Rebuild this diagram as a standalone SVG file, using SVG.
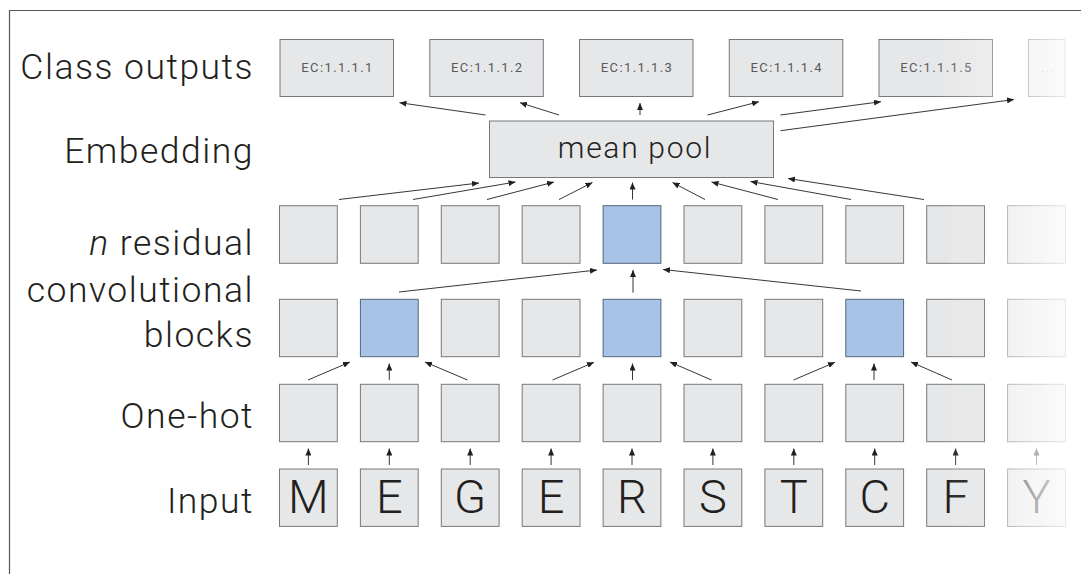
<svg xmlns="http://www.w3.org/2000/svg" width="1081" height="574" viewBox="0 0 1081 574">
<style>
.lbl{font-family:Roboto,"Liberation Sans",sans-serif;font-weight:300;font-size:35.5px;fill:#231f20;text-anchor:end;letter-spacing:1.5px}
.box{fill:#e6e7e8;stroke:#77787b;stroke-width:1}
.blue{fill:#a7c4e6;stroke:#56657a;stroke-width:1}
.ec{font-family:Roboto,"Liberation Sans",sans-serif;font-weight:400;font-size:13px;fill:#58595b;text-anchor:middle;letter-spacing:1.4px}
.let{font-family:Roboto,"Liberation Sans",sans-serif;font-weight:300;font-size:47px;fill:#231f20;text-anchor:middle}
.pool{font-family:Roboto,"Liberation Sans",sans-serif;font-weight:300;font-size:30px;fill:#231f20;text-anchor:middle;letter-spacing:1.7px}
.conn line{stroke:#231f20;stroke-width:0.9;fill:none;marker-end:url(#ah)}
</style>
<defs>
<marker id="ah" markerWidth="8" markerHeight="6" refX="7" refY="3" orient="auto" markerUnits="userSpaceOnUse"><path d="M0,0 L7,3 L0,6 z" fill="#231f20"/></marker>
<linearGradient id="fadeB" gradientUnits="userSpaceOnUse" x1="940" y1="0" x2="1070" y2="0">
<stop offset="0" stop-color="#fff" stop-opacity="0"/>
<stop offset="0.08" stop-color="#fff" stop-opacity="0"/>
<stop offset="0.081" stop-color="#fff" stop-opacity="0.06"/>
<stop offset="0.34" stop-color="#fff" stop-opacity="0.09"/>
<stop offset="0.5" stop-color="#fff" stop-opacity="0.45"/>
<stop offset="0.96" stop-color="#fff" stop-opacity="0.82"/>
<stop offset="1" stop-color="#fff" stop-opacity="0.82"/>
</linearGradient>
<linearGradient id="fadeT" gradientUnits="userSpaceOnUse" x1="930" y1="0" x2="1070" y2="0">
<stop offset="0" stop-color="#fff" stop-opacity="0"/>
<stop offset="0.44" stop-color="#fff" stop-opacity="0.25"/>
<stop offset="0.7" stop-color="#fff" stop-opacity="0.6"/>
<stop offset="0.96" stop-color="#fff" stop-opacity="0.82"/>
<stop offset="1" stop-color="#fff" stop-opacity="0.82"/>
</linearGradient>
</defs>
<rect width="1081" height="574" fill="#fff"/>
<path d="M9.5,574 V10.5 H1081" fill="none" stroke="#555" stroke-width="1.2"/>

<g id="labels">
<text class="lbl" x="254" y="78.5">Class outputs</text>
<text class="lbl" x="254" y="163">Embedding</text>
<text class="lbl" x="254" y="255"><tspan font-style="italic">n</tspan> residual</text>
<text class="lbl" x="254" y="301.5">convolutional</text>
<text class="lbl" x="254" y="347">blocks</text>
<text class="lbl" x="254" y="428">One-hot</text>
<text class="lbl" x="254" y="513">Input</text>
</g>

<g id="class-outputs">
<g id="ec1"><rect class="box" x="280" y="39.5" width="113.5" height="57"/><text class="ec" x="337.5" y="71.7">EC:1.1.1.1</text></g>
<g id="ec2"><rect class="box" x="429.8" y="39.5" width="113.5" height="57"/><text class="ec" x="487.3" y="71.7">EC:1.1.1.2</text></g>
<g id="ec3"><rect class="box" x="579.5" y="39.5" width="113.5" height="57"/><text class="ec" x="637" y="71.7">EC:1.1.1.3</text></g>
<g id="ec4"><rect class="box" x="729.3" y="39.5" width="113.5" height="57"/><text class="ec" x="786.8" y="71.7">EC:1.1.1.4</text></g>
<g id="ec5"><rect class="box" x="879" y="39.5" width="113.5" height="57"/><text class="ec" x="936.5" y="71.7">EC:1.1.1.5</text></g>
<g id="ec-more"><rect class="box" x="1028.5" y="39.5" width="36.5" height="57"/><text class="ec" x="1047.5" y="71.7" style="fill:#9a9a9a;letter-spacing:1px">...</text></g>
<rect x="930" y="38" width="140" height="59.5" fill="url(#fadeT)"/>
</g>

<g id="mean-pool">
<rect class="box" x="489.5" y="121" width="284" height="56.5"/>
<text class="pool" x="635" y="158.3">mean pool</text>
</g>

<g id="residual-top">
<rect class="box" x="279.5" y="205.7" width="57.8" height="57.6"/>
<rect class="box" x="360.4" y="205.7" width="57.8" height="57.6"/>
<rect class="box" x="441.3" y="205.7" width="57.8" height="57.6"/>
<rect class="box" x="522.2" y="205.7" width="57.8" height="57.6"/>
<rect class="blue" x="603.1" y="205.7" width="57.8" height="57.6"/>
<rect class="box" x="684" y="205.7" width="57.8" height="57.6"/>
<rect class="box" x="764.9" y="205.7" width="57.8" height="57.6"/>
<rect class="box" x="845.8" y="205.7" width="57.8" height="57.6"/>
<rect class="box" x="926.7" y="205.7" width="57.8" height="57.6"/>
<rect class="box" x="1007.6" y="205.7" width="57.8" height="57.6"/>
</g>

<g id="residual-bottom">
<rect class="box" x="279.5" y="299.3" width="57.8" height="57.4"/>
<rect class="blue" x="360.4" y="299.3" width="57.8" height="57.4"/>
<rect class="box" x="441.3" y="299.3" width="57.8" height="57.4"/>
<rect class="box" x="522.2" y="299.3" width="57.8" height="57.4"/>
<rect class="blue" x="603.1" y="299.3" width="57.8" height="57.4"/>
<rect class="box" x="684" y="299.3" width="57.8" height="57.4"/>
<rect class="box" x="764.9" y="299.3" width="57.8" height="57.4"/>
<rect class="blue" x="845.8" y="299.3" width="57.8" height="57.4"/>
<rect class="box" x="926.7" y="299.3" width="57.8" height="57.4"/>
<rect class="box" x="1007.6" y="299.3" width="57.8" height="57.4"/>
</g>

<g id="one-hot">
<rect class="box" x="279.5" y="384.3" width="57.8" height="57.4"/>
<rect class="box" x="360.4" y="384.3" width="57.8" height="57.4"/>
<rect class="box" x="441.3" y="384.3" width="57.8" height="57.4"/>
<rect class="box" x="522.2" y="384.3" width="57.8" height="57.4"/>
<rect class="box" x="603.1" y="384.3" width="57.8" height="57.4"/>
<rect class="box" x="684" y="384.3" width="57.8" height="57.4"/>
<rect class="box" x="764.9" y="384.3" width="57.8" height="57.4"/>
<rect class="box" x="845.8" y="384.3" width="57.8" height="57.4"/>
<rect class="box" x="926.7" y="384.3" width="57.8" height="57.4"/>
<rect class="box" x="1007.6" y="384.3" width="57.8" height="57.4"/>
</g>

<g id="input">
<g id="in-M"><rect class="box" x="279.5" y="469" width="57.8" height="57.4"/><text class="let" x="308.4" y="513.3">M</text></g>
<g id="in-E1"><rect class="box" x="360.4" y="469" width="57.8" height="57.4"/><text class="let" x="389.3" y="513.3">E</text></g>
<g id="in-G"><rect class="box" x="441.3" y="469" width="57.8" height="57.4"/><text class="let" x="470.2" y="513.3">G</text></g>
<g id="in-E2"><rect class="box" x="522.2" y="469" width="57.8" height="57.4"/><text class="let" x="551.1" y="513.3">E</text></g>
<g id="in-R"><rect class="box" x="603.1" y="469" width="57.8" height="57.4"/><text class="let" x="632" y="513.3">R</text></g>
<g id="in-S"><rect class="box" x="684" y="469" width="57.8" height="57.4"/><text class="let" x="712.9" y="513.3">S</text></g>
<g id="in-T"><rect class="box" x="764.9" y="469" width="57.8" height="57.4"/><text class="let" x="793.8" y="513.3">T</text></g>
<g id="in-C"><rect class="box" x="845.8" y="469" width="57.8" height="57.4"/><text class="let" x="874.7" y="513.3">C</text></g>
<g id="in-F"><rect class="box" x="926.7" y="469" width="57.8" height="57.4"/><text class="let" x="955.6" y="513.3">F</text></g>
<g id="in-Y"><rect class="box" x="1007.6" y="469" width="57.8" height="57.4"/><text class="let" x="1036.5" y="513.3">Y</text></g>
</g>

<g id="connectors" class="conn">
<line x1="308.4" y1="465" x2="308.4" y2="448.5"/>
<line x1="389.3" y1="465" x2="389.3" y2="448.5"/>
<line x1="470.2" y1="465" x2="470.2" y2="448.5"/>
<line x1="551.1" y1="465" x2="551.1" y2="448.5"/>
<line x1="632" y1="465" x2="632" y2="448.5"/>
<line x1="712.9" y1="465" x2="712.9" y2="448.5"/>
<line x1="793.8" y1="465" x2="793.8" y2="448.5"/>
<line x1="874.7" y1="465" x2="874.7" y2="448.5"/>
<line x1="955.6" y1="465" x2="955.6" y2="448.5"/>
<line x1="1036.5" y1="465" x2="1036.5" y2="448.5"/>
<line x1="308" y1="380" x2="350" y2="362"/>
<line x1="389.3" y1="380" x2="389.3" y2="363.5"/>
<line x1="467.5" y1="380" x2="425" y2="362"/>
<line x1="552.5" y1="380" x2="594" y2="362.3"/>
<line x1="632.5" y1="380" x2="632.5" y2="363.5"/>
<line x1="711.5" y1="380" x2="670" y2="362"/>
<line x1="793.5" y1="380" x2="835" y2="362.3"/>
<line x1="874" y1="380" x2="874" y2="363.5"/>
<line x1="952" y1="380" x2="911" y2="362"/>
<line x1="399" y1="292" x2="597" y2="270"/>
<line x1="633" y1="292.7" x2="633" y2="270"/>
<line x1="861" y1="291" x2="663" y2="269.5"/>
<line x1="339" y1="199.5" x2="479" y2="183"/>
<line x1="413" y1="199.5" x2="515.5" y2="182"/>
<line x1="487" y1="199.5" x2="554" y2="182"/>
<line x1="559" y1="199.5" x2="592.5" y2="182.5"/>
<line x1="632.5" y1="199.5" x2="632.5" y2="182.5"/>
<line x1="705" y1="199.5" x2="672.5" y2="182.5"/>
<line x1="778" y1="199.5" x2="711.5" y2="182"/>
<line x1="851" y1="199.5" x2="750.5" y2="181.5"/>
<line x1="924" y1="199.5" x2="788" y2="178.5"/>
<line x1="485.5" y1="115" x2="399.5" y2="102.7"/>
<line x1="559" y1="115" x2="520" y2="102.7"/>
<line x1="640" y1="115" x2="640" y2="103"/>
<line x1="707.5" y1="115" x2="759" y2="101.7"/>
<line x1="780.5" y1="115" x2="881" y2="101.7"/>
<line x1="780.5" y1="130.7" x2="1014" y2="99.5"/>
</g>

<rect id="fade" x="940" y="195" width="130" height="340" fill="url(#fadeB)"/>
</svg>
